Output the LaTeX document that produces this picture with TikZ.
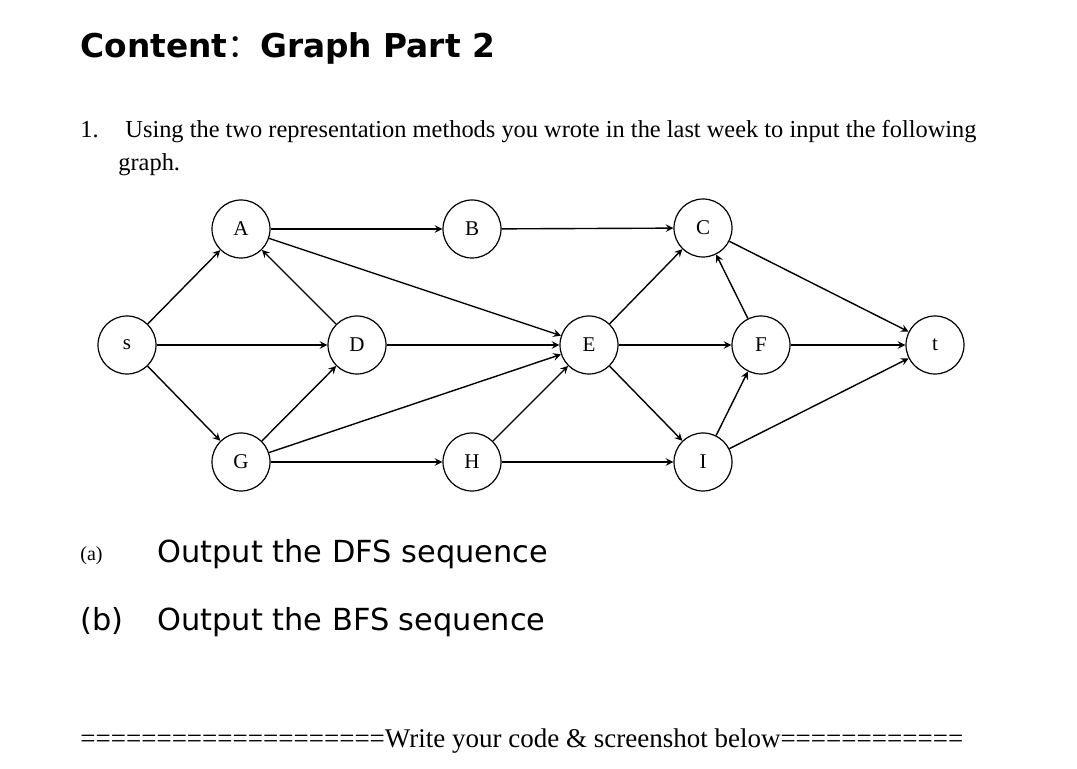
\documentclass[tikz,border=0pt]{standalone}
\usepackage{fontspec}
\setmainfont{Liberation Serif}
\newfontfamily\headfont{DejaVu Sans}
\newfontfamily\cjk{Noto Sans CJK SC}

\begin{document}
\begin{tikzpicture}[>=stealth,x=0.5pt,y=-0.5pt,
  vertex/.style={draw,circle,minimum size=29pt,inner sep=0pt,line width=0.6pt,
    font=\fontsize{10.5}{12}\selectfont},
  edge/.style={->,line width=0.7pt},
  body/.style={anchor=base west,inner sep=0pt,font=\fontsize{12.2}{14}\selectfont}]
 \useasboundingbox (0,0) rectangle (1077,769);
 % heading and question
 \node[body,font=\headfont\bfseries\fontsize{16.4}{19}\selectfont] (title) at (80,58)
      {Content{\cjk\mdseries ：}Graph Part 2};
 \node[body] (num) at (80,138) {1.};
 \node[body] (task) at (125,138)
      {Using the two representation methods you wrote in the last week to input the following};
 \node[body] (task2) at (118,171) {graph.};
 % the graph
 \node[vertex] (s) at (127,345) {s};
 \node[vertex] (A) at (241,229) {A};
 \node[vertex] (D) at (357,345) {D};
 \node[vertex] (G) at (241,462) {G};
 \node[vertex] (B) at (472,229) {B};
 \node[vertex] (E) at (589,345) {E};
 \node[vertex] (H) at (472,462) {H};
 \node[vertex] (C) at (703,228) {C};
 \node[vertex] (F) at (761,345) {F};
 \node[vertex] (I) at (703,462) {I};
 \node[vertex] (t) at (935,345) {t};
 \draw[edge] (s) -- (A);
 \draw[edge] (s) -- (D);
 \draw[edge] (s) -- (G);
 \draw[edge] (A) -- (B);
 \draw[edge] (A) -- (E);
 \draw[edge] (D) -- (A);
 \draw[edge] (D) -- (E);
 \draw[edge] (G) -- (D);
 \draw[edge] (G) -- (E);
 \draw[edge] (G) -- (H);
 \draw[edge] (H) -- (E);
 \draw[edge] (H) -- (I);
 \draw[edge] (B) -- (C);
 \draw[edge] (E) -- (C);
 \draw[edge] (E) -- (F);
 \draw[edge] (E) -- (I);
 \draw[edge] (F) -- (C);
 \draw[edge] (I) -- (F);
 \draw[edge] (C) -- (t);
 \draw[edge] (F) -- (t);
 \draw[edge] (I) -- (t);
 % sub questions
 \node[body,font=\fontsize{10}{12}\selectfont] (qa) at (80,561) {(a)};
 \node[body,font=\headfont\fontsize{15.2}{18}\selectfont] (dfs) at (157,563) {Output the DFS sequence};
 \node[body,font=\headfont\fontsize{15.2}{18}\selectfont] (qb) at (80,631) {(b)};
 \node[body,font=\headfont\fontsize{15.2}{18}\selectfont] (bfs) at (157,631) {Output the BFS sequence};
 \node[body,font=\fontsize{13.5}{16}\selectfont] (rule) at (80,748)
      {====================Write your code \& screenshot below============};
\end{tikzpicture}
\end{document}
